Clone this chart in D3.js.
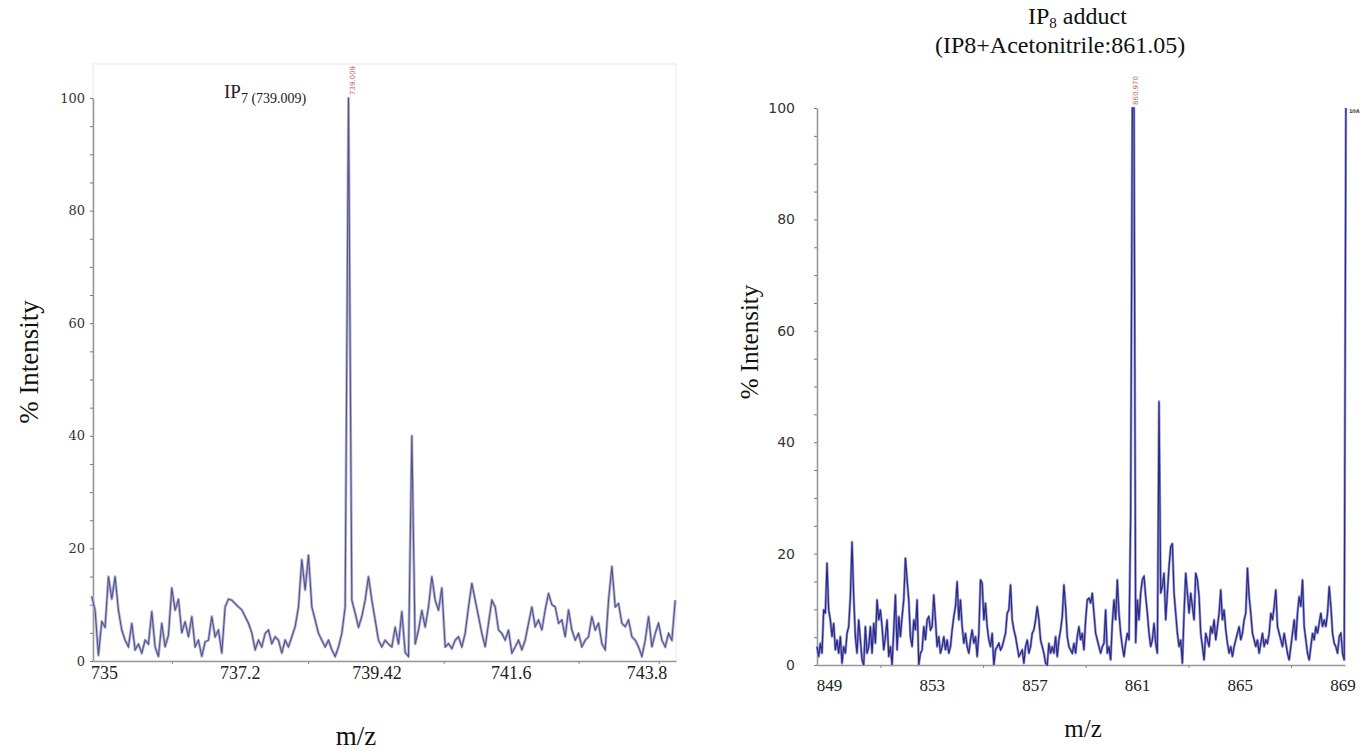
<!DOCTYPE html>
<meta charset="utf-8">
<script src="https://d3js.org/d3.v7.min.js"></script>
<style>
  body { margin: 0; background: #fff; }
</style>
<div id="chart"></div>
<script>

// ---- left spectrum: IP7, m/z 734.8 - 744.3, one value per channel
var leftMzStart = 734.80, leftMzStep = 0.0541;
var leftIntensity = [
  11.5, 9, 1, 7, 6, 15, 11, 15, 9,
  5.5, 3.7, 2.5, 6.7, 2, 3, 1.4, 3.7, 3, 8.8,
  2.5, 0.8, 6.7, 2.5, 4.6, 13, 9, 11, 5, 7,
  4.3, 7.9, 2.5, 3.7, 0.8, 3.4, 3.7, 7.9, 4.3, 5.5,
  1.4, 9.6, 11, 10.8, 10.2, 9.6, 9.1, 7.9, 6.7, 5,
  2, 3.7, 2.5, 4.9, 5.5, 3.1, 4.3, 3.7, 1.4, 3.7,
  2.5, 4.3, 6.1, 9.6, 18, 12.6, 18.8, 9.6, 7.3, 4.9,
  3.7, 2.5, 3.7, 2, 0.8, 2.5, 4.9, 9.6, 100, 10.8,
  8.5, 6, 7.9, 10.8, 15, 10.8, 7.3, 3.7, 2.5, 3.7,
  3, 2.5, 6, 3, 8.8, 1.5, 0.8, 40, 3, 5.5,
  9, 6, 9.6, 15, 10.8, 9, 13, 2.5, 3.1, 2.2,
  3.7, 4.3, 2.5, 4.9, 9.6, 13.8, 10.8, 7.9, 4.9, 2.5,
  6.7, 10.8, 9.6, 5.5, 4.9, 3.7, 5.5, 1.4, 2.5, 3.7,
  2, 3.7, 6.7, 9.6, 6.1, 7.3, 5.5, 9.1, 12, 10,
  9.6, 6.7, 7.3, 4.3, 9.1, 5.5, 3.7, 4.9, 2.5, 3.7,
  4.3, 7.9, 5.5, 6.7, 3.1, 2, 10.8, 16.8, 9.6, 10.2,
  6.7, 6.1, 7.3, 4.3, 3.7, 2.5, 0.8, 3.7, 7.9, 2.5,
  4.9, 6.7, 3.7, 2.5, 4.9, 3.7, 10.8
];
var leftTicks = [735, 737.2, 739.42, 741.6, 743.8];
var leftTickLabels = ["735", "737.2", "739.42", "741.6", "743.8"];
var leftMinorTicks = [736.1, 738.31, 740.51, 742.7, 744.0];
var leftPeakMz = 738.966, leftPeakLabel = "739.009";

// ---- right spectrum: IP8 adduct, m/z 848.5 - 869.1
var rightMzStart = 848.53, rightMzStep = 0.065;
var rightIntensity = [
  3.3, 1.5, 3.9, 2.1, 9.9, 9.3, 18.3, 9.9, 8.1, 5.1,
  7.5, 2.7, 4.5, 2.1, 5.1, 0.3, 3.3, 2.1, 5.7, 6.9,
  12.3, 22.1, 12.3, 5.1, 2.1, 8.1, 4.5, 0.9, 0, 6.9,
  2.1, 3.3, 6.9, 2.1, 7.5, 3.9, 11.7, 8.1, 9.9, 6.9,
  2.7, 5.1, 8.1, 1.5, 3.3, 0, 6.3, 12.6, 2.7, 8.7,
  5.1, 8.7, 11.7, 19.2, 15.3, 11.7, 5.1, 3.3, 8.1, 6.3,
  11.7, 0, 2.1, 2.7, 6.9, 4.5, 8.1, 8.7, 6.3, 6.9,
  12.6, 8.1, 3.3, 5.1, 2.1, 3.3, 5.1, 2.7, 4.5, 2.1,
  3.3, 6.3, 8.7, 10.5, 15, 8.1, 11.7, 6.9, 3.9, 5.7,
  3.3, 2.1, 4.5, 6.3, 3.9, 5.1, 1.5, 5.7, 15.3, 14.7,
  8.1, 11.1, 6.9, 4.5, 3.3, 5.7, 0, 2.7, 3.3, 3.9,
  2.7, 3.3, 4.5, 5.7, 9.3, 9.9, 14.4, 8.1, 6.3, 5.1,
  3.3, 1.5, 2.1, 2.7, 0.3, 3.3, 4.5, 2.1, 3.3, 5.7,
  6.3, 8.1, 10.5, 8.1, 4.5, 3.3, 2.1, 0.3, 0, 3.9,
  2.1, 3.3, 2.1, 5.1, 1.5, 4.5, 6.3, 8.7, 14.4, 10.5,
  5.1, 3.3, 2.7, 2.1, 3.9, 2.1, 5.1, 6.9, 4.5, 5.7,
  2.7, 8.1, 11.7, 12, 11.1,
  12.9, 9.3, 5.7, 4.5, 3.3, 2.1, 3.3, 3.9, 9.9, 2.1,
  3.3, 0.9, 7.5, 11.7, 8.1, 15.3, 9.3, 5.7, 3.3, 1.5,
  3.9, 5.7, 4.5, 27, 100, 100, 4, 11.7, 8.1, 12.9,
  15.3, 15.9, 12.3, 9.3, 5.7, 3.3, 4.5, 7.5, 3.9, 2.1,
  47.3, 12.9, 14.1, 16.5, 8.1, 12.9, 17.7, 21.2, 21.8, 12.9,
  9.3, 5.7, 3.3, 4.5, 0.3, 9.3, 16.5, 12.9, 9.3, 12.9,
  10.5, 8.1, 16.5, 15.3, 12.3, 5.7, 3.3, 0.9, 5.7, 4.5,
  3.3, 6.9, 5.7, 8.1, 4.5, 6.9, 9.3, 13.5, 8.1, 9.9,
  6.3, 3.9, 2.1, 3.3, 1.5, 3.3, 4.5, 5.7, 6.9, 4.5,
  5.7, 8.1, 9.3, 17.4, 12.3, 9.3, 5.7, 4.5, 3.3, 4.5,
  2.1, 3.9, 5.7, 3.3, 4.5, 3.9, 5.7, 9.3, 8.1, 10.5,
  13.5, 6.9, 5.7, 4.5, 3.3, 5.7, 3.9, 2.1, 0.9, 3.3,
  5.7, 8.1, 4.5, 9.3, 12.3, 10.5, 15.3, 6.9, 4.5, 2.1,
  0.9, 3.3, 5.7, 4.5, 6.9, 5.7, 7.5, 9.3, 6.9, 8.1,
  6.9, 9.3, 14.1, 10.5, 5.7, 3.9, 3.3, 2.1, 5.1, 5.7,
  2.1, 0.9, 100
];
var rightTicks = [849, 853, 857, 861, 865, 869];
var rightTickLabels = ["849", "853", "857", "861", "865", "869"];
var rightMinorTicks = [851, 855, 859, 863, 867];
var rightPeakMz = 860.815, rightPeakLabel = "860.970";
var rightEdgeMz = 869.135, rightEdgeLabel = "10A";

var yTicks = [0, 20, 40, 60, 80, 100];
var yMinor = d3.range(0, 101, 5);

var serif = "'Liberation Serif', 'Times New Roman', serif";

var svg = d3.select("#chart")
  .append("svg")
    .attr("width", 1361)
    .attr("height", 751)
    .style("background", "#fff");

function drawSpectrum(o) {
  var x = d3.scaleLinear().domain(o.xDomain).range(o.xRange);
  var y = d3.scaleLinear().domain([0, 100]).range(o.yRange);
  var g = svg.append("g");

  var data = o.values.map(function(v, i) { return {mz: o.start + i * o.step, v: v}; });
  var line = d3.line()
    .x(function(d) { return x(d.mz); })
    .y(function(d) { return y(d.v); });

  // y axis, minor ticks every 5
  var ya = g.append("g")
    .attr("transform", "translate(" + o.xRange[0] + ",0)")
    .call(d3.axisLeft(y).tickValues(yMinor).tickSize(3).tickSizeOuter(0)
      .tickPadding(o.yPad)
      .tickFormat(function(d) { return yTicks.indexOf(d) >= 0 ? d : ""; }));
  ya.attr("font-family", null).attr("font-size", null);
  ya.select(".domain").attr("stroke", "#999").attr("stroke-width", 1.6);
  ya.selectAll(".tick line").attr("stroke", "#777");
  ya.selectAll("text").style("font-family", o.yFont).style("font-size", o.yFontSize).attr("fill", "#333");

  // x axis
  var xa = g.append("g")
    .attr("transform", "translate(0," + o.yRange[0] + ")")
    .call(d3.axisBottom(x).tickValues(o.ticks).tickSize(0).tickSizeOuter(0)
      .tickPadding(o.xPad)
      .tickFormat(function(d, i) { return o.tickLabels[i]; }));
  xa.attr("font-family", null).attr("font-size", null);
  xa.select(".domain").attr("stroke", "#999").attr("stroke-width", 1.4);
  xa.selectAll("text").style("font-family", serif)
    .style("font-size", o.xFontSize).attr("fill", "#222");

  var xm = g.append("g")
    .attr("transform", "translate(0," + o.yRange[0] + ")")
    .call(d3.axisBottom(x).tickValues(o.minor).tickSize(3).tickFormat(""));
  xm.select(".domain").remove();
  xm.selectAll(".tick line").attr("stroke", "#888");

  // spectrum trace: soft halo plus darker core
  g.append("path").datum(data)
    .attr("d", line)
    .attr("fill", "none")
    .attr("stroke", o.halo)
    .attr("stroke-width", o.haloWidth)
    .attr("stroke-linejoin", "round");
  g.append("path").datum(data)
    .attr("d", line)
    .attr("fill", "none")
    .attr("stroke", o.core)
    .attr("stroke-width", o.coreWidth);

  // peak label
  g.append("text")
    .attr("transform", "translate(" + (x(o.peakMz) + 6) + "," + (y(100) - 3) + ") rotate(-90)")
    .style("font-family", "'DejaVu Sans', sans-serif")
    .style("font-size", "7px")
    .attr("fill", "#c06a6a")
    .text(o.peakLabel);

  // axis titles
  g.append("text")
    .attr("transform", "translate(" + o.yTitle[0] + "," + o.yTitle[1] + ") rotate(-90)")
    .attr("text-anchor", "middle")
    .style("font-family", serif)
    .style("font-size", o.titleSize)
    .attr("fill", "#111")
    .text("% Intensity");
  g.append("text")
    .attr("x", o.xTitle[0]).attr("y", o.xTitle[1])
    .attr("text-anchor", "middle")
    .style("font-family", serif)
    .style("font-size", o.titleSize)
    .attr("fill", "#111")
    .text("m/z");

  return {x: x, y: y, g: g};
}

// faint frame round the left plot
svg.append("rect")
  .attr("x", 93).attr("y", 64).attr("width", 583).attr("height", 597)
  .attr("fill", "none").attr("stroke", "#e8e8e8").attr("stroke-width", 1);

var left = drawSpectrum({
  values: leftIntensity, start: leftMzStart, step: leftMzStep,
  xDomain: [734.82, 744.28], xRange: [93, 676], yRange: [661, 98],
  ticks: leftTicks, tickLabels: leftTickLabels, minor: leftMinorTicks,
  yPad: 5, xPad: 5, yFont: "'DejaVu Serif', serif", yFontSize: "13px", xFontSize: "18px",
  halo: "#b4b4d0", core: "#53538f", haloWidth: 2.8, coreWidth: 1.1,
  peakMz: leftPeakMz, peakLabel: leftPeakLabel,
  yTitle: [38, 362], xTitle: [356, 745], titleSize: "27px"
});

var right = drawSpectrum({
  values: rightIntensity, start: rightMzStart, step: rightMzStep,
  xDomain: [848.53, 869.1], xRange: [817, 1345], yRange: [665, 108],
  ticks: rightTicks, tickLabels: rightTickLabels, minor: rightMinorTicks,
  yPad: 19, xPad: 14, yFont: "'DejaVu Sans', sans-serif", yFontSize: "14px", xFontSize: "17px",
  halo: "#9a9acc", core: "#2a2a8c", haloWidth: 2.6, coreWidth: 1.2,
  peakMz: rightPeakMz, peakLabel: rightPeakLabel,
  yTitle: [758, 342], xTitle: [1083, 737], titleSize: "25px"
});

// label on the edge line at 869
right.g.append("text")
  .attr("x", right.x(rightEdgeMz) + 3).attr("y", right.y(100) + 5)
  .style("font-family", "'DejaVu Sans', sans-serif")
  .style("font-size", "5px").style("font-weight", "bold")
  .attr("fill", "#444")
  .text(rightEdgeLabel);

// IP7 annotation on the left spectrum
var ip7 = svg.append("text")
  .attr("x", 224).attr("y", 98)
  .style("font-family", serif)
  .attr("fill", "#222");
ip7.append("tspan").style("font-size", "19px").text("IP");
ip7.append("tspan").style("font-size", "14px").attr("dy", 5).text("7");
ip7.append("tspan").style("font-size", "14px").text(" (739.009)");

// title of the right spectrum
var t1 = svg.append("text")
  .attr("x", 1028).attr("y", 24)
  .style("font-family", serif)
  .attr("fill", "#111");
t1.append("tspan").style("font-size", "24px").text("IP");
t1.append("tspan").style("font-size", "15px").attr("dy", 4).text("8");
t1.append("tspan").style("font-size", "24px").attr("dy", -4).text(" adduct");

svg.append("text")
  .attr("x", 935).attr("y", 53)
  .style("font-family", serif)
  .style("font-size", "24px")
  .attr("fill", "#111")
  .text("(IP8+Acetonitrile:861.05)");

</script>
